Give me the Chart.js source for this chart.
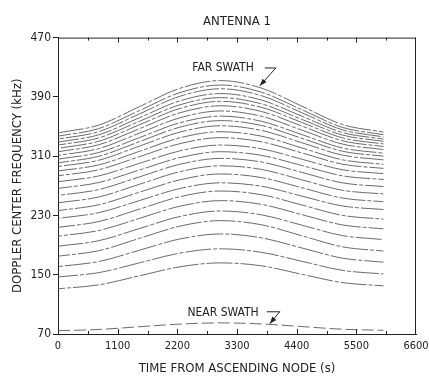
<!DOCTYPE html>
<html>
<head>
<meta charset="utf-8">
<script src="https://cdn.jsdelivr.net/npm/chart.js@4.4.1/dist/chart.umd.min.js"></script>
<style>
  html, body { margin: 0; padding: 0; background: #fff; }
</style>
</head>
<body>
<canvas id="myChart" width="429" height="378"></canvas>
<script>
// time axis samples (s) shared by every curve
const timeS = [0, 750, 1500, 2250, 3000, 3750, 4500, 5250, 6000];

// far swath family, top curve first (kHz)
const far01 = [341.5, 351.9, 376.8, 401.6, 412, 401.9, 377.3, 352.6, 342.5];
const far02 = [337, 347.2, 371.5, 395.8, 406, 396.3, 372.5, 348.7, 339];
const far03 = [333, 343.1, 367, 390.9, 401, 391.6, 368.5, 345.4, 336];
const far04 = [329, 338.8, 361.8, 384.7, 394.5, 385.7, 363.8, 341.8, 333];
const far05 = [325, 334.6, 357, 379.4, 389, 380.6, 359.5, 338.4, 330];
const far06 = [320.5, 330.1, 352.3, 374.4, 384, 375.9, 355.3, 334.6, 326.5];
const far07 = [316, 325.4, 347, 368.6, 378, 370.3, 350.5, 330.7, 323];
const far08 = [311, 320.2, 341, 361.8, 371, 363.8, 345, 326.2, 319];
const far09 = [306, 314.9, 335, 355.1, 364, 357.1, 339, 320.9, 314];
const far10 = [301, 309.8, 329.5, 349.2, 358, 351.4, 334, 316.6, 310];
const far11 = [296, 304.5, 323.5, 342.5, 351, 344.7, 328, 311.3, 305];
const far12 = [290, 298.2, 316.5, 334.8, 343, 337, 321, 305, 299];
const far13 = [283.5, 291.6, 309.3, 326.9, 335, 329.4, 314.3, 299.1, 293.5];
const far14 = [275.5, 283.3, 300.3, 317.2, 325, 319.9, 305.8, 291.6, 286.5];
const far15 = [266.5, 274.4, 291.3, 308.1, 316, 311.1, 297.3, 283.4, 278.5];
const far16 = [257, 264.9, 282, 299.1, 307, 302.1, 288, 273.9, 269];
const far17 = [247, 254.9, 272, 289.1, 297, 292.1, 278, 263.9, 259];
const far18 = [236.5, 244.4, 261.3, 278.1, 286, 281.1, 267.3, 253.4, 248.5];
const far19 = [226, 233.7, 250, 266.4, 274, 269.4, 256, 242.7, 238];
const far20 = [214, 221.7, 238.5, 255.3, 263, 258, 244, 230, 225];
const far21 = [202, 209.6, 226, 242.5, 250, 245, 231, 217.1, 212];
const far22 = [188.5, 195.9, 212.3, 228.6, 236, 230.8, 216.8, 202.7, 197.5];
const far23 = [175, 182.4, 199, 215.6, 223, 217.4, 202.5, 187.6, 182];
const far24 = [161, 167.8, 183, 198.3, 205, 199.8, 186, 172.3, 167];
const far25 = [147, 152.8, 166, 179.2, 185, 180.2, 168, 155.8, 151];
const far26 = [131, 136.3, 148.5, 160.7, 166, 162, 150.5, 139.3, 135];

// near swath (kHz)
const nearSwath = [74.5, 76.1, 79.8, 83.4, 85, 83.6, 80, 76.4, 75];

const farSwaths = [far01, far02, far03, far04, far05, far06, far07, far08, far09,
  far10, far11, far12, far13, far14, far15, far16, far17, far18, far19, far20,
  far21, far22, far23, far24, far25, far26];

const xTicks = [0, 1100, 2200, 3300, 4400, 5500, 6600];
const yTicks = [70, 150, 230, 310, 390, 470];
const xMinorStep = 550;

const FONT = "'DejaVu Sans Condensed', 'Liberation Sans Narrow', 'DejaVu Sans', sans-serif";
const INK = '#222';
const LINE = '#505050';

function toPoints(arr) {
  return arr.map((v, i) => ({ x: timeS[i], y: v }));
}

// dash offset varies per curve so the breaks don't line up
var datasets = farSwaths.map(function (arr, i) {
  return {
    data: toPoints(arr),
    borderColor: LINE,
    borderWidth: 0.85,
    borderDash: [26, 2, 4, 2],
    borderDashOffset: (i * 13) % 34,
    pointRadius: 0,
    fill: false,
    cubicInterpolationMode: 'monotone'
  };
});
datasets.push({
  data: toPoints(nearSwath),
  borderColor: LINE,
  borderWidth: 0.85,
  borderDash: [12, 4],
  pointRadius: 0,
  fill: false,
  cubicInterpolationMode: 'monotone'
});

// little "7" shaped pointer with an arrow head
function drawPointer(ctx, x, y, pts) {
  var a = { x: x.getPixelForValue(pts[0][0]), y: y.getPixelForValue(pts[0][1]) };
  var b = { x: x.getPixelForValue(pts[1][0]), y: y.getPixelForValue(pts[1][1]) };
  var c = { x: x.getPixelForValue(pts[2][0]), y: y.getPixelForValue(pts[2][1]) };
  ctx.beginPath();
  ctx.moveTo(a.x, a.y);
  ctx.lineTo(b.x, b.y);
  ctx.lineTo(c.x, c.y);
  ctx.stroke();
  var ang = Math.atan2(c.y - b.y, c.x - b.x);
  var len = 7, wid = 2.6;
  ctx.beginPath();
  ctx.moveTo(c.x, c.y);
  ctx.lineTo(c.x - len * Math.cos(ang) + wid * Math.sin(ang), c.y - len * Math.sin(ang) - wid * Math.cos(ang));
  ctx.lineTo(c.x - len * Math.cos(ang) - wid * Math.sin(ang), c.y - len * Math.sin(ang) + wid * Math.cos(ang));
  ctx.closePath();
  ctx.fill();
}

const framePlugin = {
  id: 'frame',
  afterDraw(chart) {
    const ctx = chart.ctx;
    const a = chart.chartArea;
    const x = chart.scales.x, y = chart.scales.y;
    ctx.save();
    ctx.strokeStyle = INK;
    ctx.fillStyle = INK;
    ctx.lineWidth = 1;
    ctx.setLineDash([]);
    ctx.beginPath();
    ctx.moveTo(a.left, a.top + 0.5);
    ctx.lineTo(a.right, a.top + 0.5);
    ctx.moveTo(a.right - 0.5, a.top);
    ctx.lineTo(a.right - 0.5, a.bottom);
    for (let t = xMinorStep; t < 6600; t += xMinorStep) {
      const px = Math.round(x.getPixelForValue(t)) + 0.5;
      const len = (t % 1100 === 0) ? 5 : 3;
      ctx.moveTo(px, a.bottom);
      ctx.lineTo(px, a.bottom - len);
      ctx.moveTo(px, a.top);
      ctx.lineTo(px, a.top + len);
    }
    ctx.stroke();

    // labels for the two families
    ctx.font = '12px ' + FONT;
    ctx.textAlign = 'center';
    ctx.textBaseline = 'middle';
    ctx.fillText('FAR SWATH', x.getPixelForValue(3043), y.getPixelForValue(429));
    ctx.fillText('NEAR SWATH', x.getPixelForValue(3043), y.getPixelForValue(98));
    ctx.lineWidth = 1;
    drawPointer(ctx, x, y, [[3813, 429], [4015, 429], [3721, 405]]);
    drawPointer(ctx, x, y, [[3850, 100], [4088, 100], [3905, 84]]);
    ctx.restore();
  }
};

var ctx = document.getElementById('myChart').getContext('2d');
var myChart = new Chart(ctx, {
  type: 'line',
  data: { datasets: datasets },
  options: {
    responsive: false,
    animation: false,
    layout: { padding: { left: 0, right: 13, top: 0, bottom: 0 } },
    plugins: {
      legend: { display: false },
      tooltip: { enabled: false },
      title: {
        display: true,
        text: 'ANTENNA 1',
        fullSize: false,
        color: INK,
        font: { family: FONT, size: 13, weight: 'normal' },
        padding: { top: 14, bottom: 8 }
      }
    },
    scales: {
      x: {
        type: 'linear',
        min: 0,
        max: 6600,
        afterBuildTicks: function (scale) {
          scale.ticks = xTicks.map(v => ({ value: v }));
        },
        afterFit: function (scale) {
          scale.height = 44;
          scale.paddingLeft = 0;
          scale.paddingRight = 0;
        },
        grid: { display: true, drawOnChartArea: false, drawTicks: false },
        border: { display: true, color: INK, width: 1 },
        ticks: {
          color: INK,
          padding: 6,
          maxRotation: 0,
          font: { family: FONT, size: 11 },
          callback: v => String(v)
        },
        title: {
          display: true,
          text: 'TIME FROM ASCENDING NODE (s)',
          color: INK,
          font: { family: FONT, size: 13 },
          padding: { top: 0, bottom: 2 }
        }
      },
      y: {
        type: 'linear',
        min: 70,
        max: 470,
        afterBuildTicks: function (scale) {
          scale.ticks = yTicks.map(v => ({ value: v }));
        },
        afterFit: function (scale) {
          scale.width = 58;
          scale.paddingTop = 0;
          scale.paddingBottom = 0;
        },
        grid: { display: true, drawOnChartArea: false, drawTicks: true, tickLength: 5, color: INK },
        border: { display: true, color: INK, width: 1 },
        ticks: {
          color: INK,
          padding: 2,
          font: { family: FONT, size: 12 },
          callback: v => String(v)
        },
        title: {
          display: true,
          text: 'DOPPLER CENTER FREQUENCY (kHz)',
          color: INK,
          font: { family: FONT, size: 13 },
          padding: { top: 10, bottom: 0 }
        }
      }
    }
  },
  plugins: [framePlugin]
});
</script>
</body>
</html>
